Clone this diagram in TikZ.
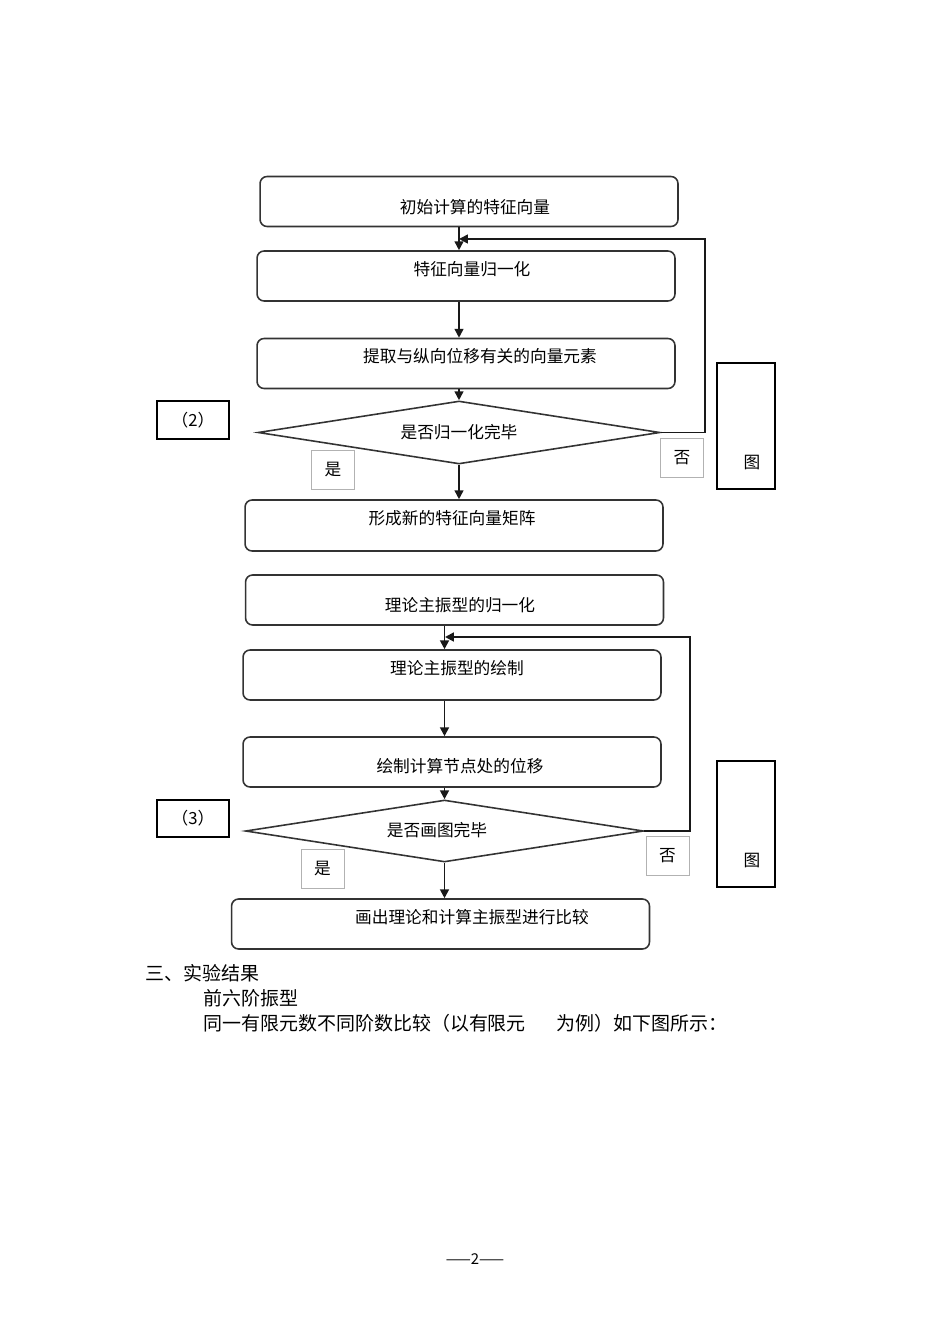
\documentclass[tikz,border=0pt]{standalone}
\usepackage{fontspec}
\newfontfamily\cjk{Noto Sans CJK SC}
\usetikzlibrary{shapes.geometric,arrows.meta}

\begin{document}
\begin{tikzpicture}[x=0.02cm,y=-0.02cm,
	box/.style={draw=black!80,line width=0.9pt,rounded corners=4pt,
		minimum width=8.36cm,minimum height=1cm,inner sep=0},
	dec/.style={draw=black!80,line width=0.9pt,diamond,inner sep=0},
	txt/.style={font=\cjk\fontsize{9.5}{11}\selectfont,inner sep=0},
	body/.style={font=\cjk\fontsize{10.8}{12}\selectfont,inner sep=0,anchor=west},
	tag/.style={draw=black!30,line width=0.4pt,minimum width=0.86cm,
		minimum height=0.78cm,inner sep=0,font=\cjk\fontsize{9.5}{11}\selectfont},
	side/.style={draw=black,line width=0.8pt,inner sep=0},
	flow/.style={-{Triangle[length=5pt,width=5pt]},line width=0.9pt,black!90}]
	\useasboundingbox (0,0) rectangle (950,1344);
	
	% first loop
	\node[box] (b1) at (469,201.5) {};
	\node[box] (b2) at (466,276) {};
	\node[box] (b3) at (466,363.5) {};
	\node[dec,minimum width=8.04cm,minimum height=1.26cm] (d1) at (459,432.5) {};
	\node[box,minimum height=1.02cm] (b4) at (454,525.5) {};
	\node[txt] (t1) at (475,207) {初始计算的特征向量};
	\node[txt] (t2) at (472,269) {特征向量归一化};
	\node[txt] (t3) at (480,356) {提取与纵向位移有关的向量元素};
	\node[txt] (t4) at (459,432) {是否归一化完毕};
	\node[txt] (t5) at (452,518) {形成新的特征向量矩阵};
	
	\draw[flow] (d1.north |- b1.south) -- (d1.north |- b2.north);
	\draw[flow] (d1.north |- b2.south) -- (d1.north |- b3.north);
	\draw[flow] (d1.north |- b3.south) -- (d1.north);
	\draw[flow] (d1.south) -- (d1.south |- b4.north);
	\coordinate (r1) at (459,239);
	\draw[flow] (d1.east) -- ++(44,0) |- (r1);
	
	\node[tag] (y1) at (333,470) {是};
	\node[tag] (n1) at (682,457.5) {否};
	\node[side,minimum width=1.44cm,minimum height=0.76cm] (c2) at (193,420) {};
	\node[txt] at (c2) {（2）};
	\node[side,minimum width=1.16cm,minimum height=2.52cm] (f1) at (746,426) {};
	\node[txt] (g1) at (752,463) {图};
	
	% second loop
	\node[box] (b5) at (454.5,600) {};
	\node[box] (b6) at (452,675) {};
	\node[box] (b7) at (452,762) {};
	\node[dec,minimum width=7.96cm,minimum height=1.24cm] (d2) at (444.5,831) {};
	\node[box] (b8) at (440.5,924) {};
	\node[txt] (t6) at (460,605) {理论主振型的归一化};
	\node[txt] (t7) at (457,668) {理论主振型的绘制};
	\node[txt] (t8) at (460,766) {绘制计算节点处的位移};
	\node[txt] (t9) at (437,830) {是否画图完毕};
	\node[txt] (t10) at (472,917) {画出理论和计算主振型进行比较};
	
	\draw[flow,line width=1.1pt] (d2.north |- b5.south) -- (d2.north |- b6.north);
	\draw[flow,line width=1.1pt] (d2.north |- b6.south) -- (d2.north |- b7.north);
	\draw[flow,line width=1.1pt] (d2.north |- b7.south) -- (d2.north);
	\draw[flow,line width=1.1pt] (d2.south) -- (d2.south |- b8.north);
	\coordinate (r2) at (445,637);
	\draw[flow,line width=1.1pt] (d2.east) -- ++(46,0) |- (r2);
	
	\node[tag] (y2) at (322.5,868.5) {是};
	\node[tag] (n2) at (667.5,855.5) {否};
	\node[side,minimum width=1.44cm,minimum height=0.74cm] (c3) at (193,818.5) {};
	\node[txt] at (c3) {（3）};
	\node[side,minimum width=1.16cm,minimum height=2.52cm] (f2) at (746,824) {};
	\node[txt] (g2) at (752,861) {图};
	
	% text below
	\node[body] (h1) at (145,973) {三、实验结果};
	\node[body] (h2) at (203,998) {前六阶振型};
	\node[body] (h3) at (203,1023) {同一有限元数不同阶数比较（以有限元\hspace{1.6em}为例）如下图所示：};
	\node[font=\cjk\fontsize{8.5}{10}\selectfont,inner sep=0] (pg) at (475,1259) {——2——};
\end{tikzpicture}
\end{document}
